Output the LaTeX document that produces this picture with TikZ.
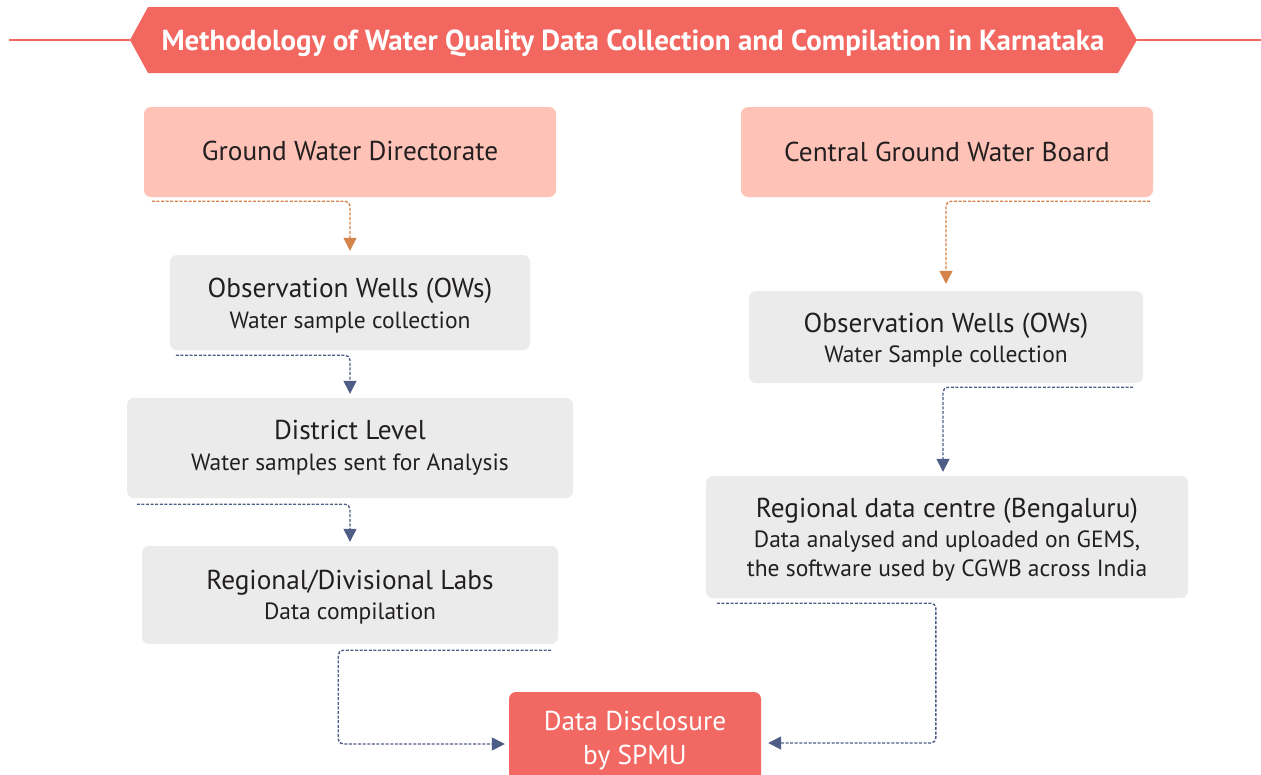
\documentclass[tikz,border=0pt]{standalone}
\usepackage{fontspec}
\setmainfont{PT Sans}
\usetikzlibrary{arrows.meta,calc}
\definecolor{titlered}{HTML}{F2675F}
\definecolor{peach}{HTML}{FFC2B6}
\definecolor{boxgray}{HTML}{EBEBEB}
\definecolor{orangearr}{HTML}{D4834A}
\definecolor{bluearr}{HTML}{4E5D85}
\definecolor{ddred}{HTML}{F26862}
\definecolor{txt}{HTML}{231F20}
\newcommand\subfnt{\fontsize{23.5}{26}\selectfont}
\newcommand\tallstrut[1]{\rule{0pt}{#1}}
\tikzset{
  headbox/.style={fill=peach, rounded corners=7pt, inner sep=0pt, text=txt, font=\fontsize{27.3}{30}\selectfont},
  graybox/.style={fill=boxgray, rounded corners=7pt, inner sep=0pt, text=txt, align=center, font=\fontsize{27.3}{30}\selectfont},
  conn/.style={line width=1.4pt, dash pattern=on 3pt off 1.6pt, rounded corners=5pt, -{Triangle[width=13pt,length=13pt]}},
  oconn/.style={conn, color=orangearr},
  bconn/.style={conn, color=bluearr},
}
\begin{document}
\begin{tikzpicture}[x=1pt,y=-1pt]
\useasboundingbox (0,0) rectangle (1261,774);
\clip (0,0) rectangle (1261,774);
% title banner
\draw[titlered, line width=2pt] (9,40) -- (130,40);
\draw[titlered, line width=2pt] (1137,40) -- (1261,40);
\fill[titlered] (130,40) -- (148,7) -- (1118,7) -- (1137,40) -- (1118,73) -- (148,73) -- cycle;
\node[text=white, font=\bfseries\fontsize{29}{32}\selectfont] (title) at (633,43.5) {Methodology of Water Quality Data Collection and Compilation in Karnataka};

% left column
\node[headbox, minimum width=412pt, minimum height=90pt] (gwd) at (350,152) {\raisebox{3pt}{Ground Water Directorate}};
\node[graybox, minimum width=360pt, minimum height=95pt] (owl) at (350,302.5)
  {\tallstrut{26pt}Observation Wells (OWs)\\[1pt]{\subfnt Water sample collection}};
\node[graybox, minimum width=446pt, minimum height=100pt] (dist) at (350,448)
  {District Level\\[1pt]{\subfnt Water samples sent for Analysis}};
\node[graybox, minimum width=416pt, minimum height=98pt] (labs) at (350,595)
  {\tallstrut{24pt}Regional/Divisional Labs\\[0pt]{\subfnt Data compilation}};

% right column
\node[headbox, minimum width=412pt, minimum height=90pt] (cgwb) at (947,152) {Central Ground Water Board};
\node[graybox, minimum width=394pt, minimum height=92pt] (owr) at (946,337)
  {\tallstrut{25pt}Observation Wells (OWs)\\[0pt]{\subfnt Water Sample collection}};
\node[graybox, minimum width=482pt, minimum height=122pt] (rdc) at (947,537)
  {\tallstrut{25pt}Regional data centre (Bengaluru)\\[0pt]{\subfnt Data analysed and uploaded on GEMS,}\\[-1pt]{\subfnt the software used by CGWB across India}};

% bottom
\node[fill=ddred, rounded corners=7pt, minimum width=252pt, minimum height=98pt, text=white, align=center, font=\fontsize{27.3}{34}\selectfont] (dd) at (635,741)
  {Data Disclosure\\by SPMU};

% connectors
\draw[oconn] ($(gwd.south west)+(8,4)$) -| ([yshift=4pt]owl.north);
\draw[bconn] ($(owl.south west)+(6,5)$) -| ([yshift=4pt]dist.north);
\draw[bconn] ($(dist.south west)+(10,6)$) -| ([yshift=4pt]labs.north);
\draw[bconn] ($(labs.south east)+(-7,6)$) -- ++(-213,0) |- ([xshift=-4pt,yshift=-3pt]dd.west);
\draw[oconn] ($(cgwb.south east)+(-3,4)$) -| ([yshift=7pt]owr.north);
\draw[bconn] ($(owr.south east)+(-10,4)$) -| ([xshift=-4pt,yshift=4pt]rdc.north);
\draw[bconn] ($(rdc.south west)+(11,5)$) -- ++(219,0) |- ($(dd.east)+(7,2)$);
\end{tikzpicture}
\end{document}
